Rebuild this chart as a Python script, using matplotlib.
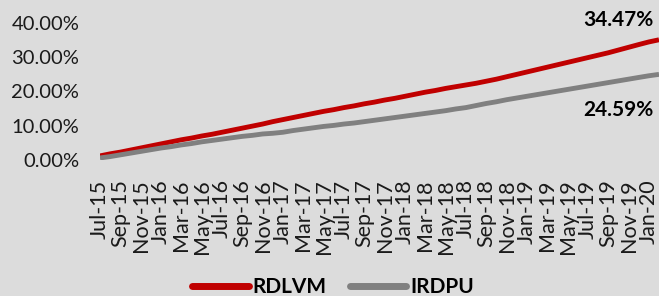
import matplotlib
matplotlib.use("Agg")
import matplotlib.pyplot as plt
from matplotlib.ticker import FuncFormatter

# ---- data (monthly, Jul-15 .. Feb-20), values in % ----
rdlvm = [1.2, 1.8, 2.3, 2.9, 3.5, 4.1, 4.7, 5.3, 5.9, 6.4, 7.0, 7.5, 8.1, 8.7,
         9.3, 9.9, 10.5, 11.2, 11.8, 12.4, 13.0, 13.6, 14.2, 14.7, 15.3, 15.8,
         16.4, 16.9, 17.5, 18.0, 18.6, 19.2, 19.8, 20.3, 20.9, 21.4, 21.9, 22.4,
         23.0, 23.6, 24.3, 25.0, 25.7, 26.4, 27.1, 27.8, 28.5, 29.2, 29.9, 30.6,
         31.3, 32.1, 32.9, 33.7, 34.47, 35.1]
irdpu = [0.6, 1.0, 1.5, 2.0, 2.5, 3.0, 3.5, 3.9, 4.4, 4.8, 5.3, 5.7, 6.1, 6.5,
         6.9, 7.2, 7.6, 7.8, 8.1, 8.6, 9.0, 9.4, 9.8, 10.1, 10.5, 10.8, 11.2,
         11.6, 12.0, 12.4, 12.8, 13.2, 13.6, 14.0, 14.4, 14.9, 15.3, 15.9, 16.5,
         17.0, 17.6, 18.1, 18.6, 19.1, 19.6, 20.1, 20.6, 21.1, 21.6, 22.1, 22.6,
         23.1, 23.6, 24.1, 24.59, 25.0]
tick_labels = ["Jul-15", "Sep-15", "Nov-15", "Jan-16", "Mar-16", "May-16",
               "Jul-16", "Sep-16", "Nov-16", "Jan-17", "Mar-17", "May-17",
               "Jul-17", "Sep-17", "Nov-17", "Jan-18", "Mar-18", "May-18",
               "Jul-18", "Sep-18", "Nov-18", "Jan-19", "Mar-19", "May-19",
               "Jul-19", "Sep-19", "Nov-19", "Jan-20"]
y_ticks = [0, 10, 20, 30, 40]
end_labels = {"RDLVM": 34.47, "IRDPU": 24.59}
series_names = ["RDLVM", "IRDPU"]
colors = ["#c00000", "#808080"]

plt.rcParams['font.family'] = ['Lato', 'DejaVu Sans']

fig = plt.figure(figsize=(6.59, 2.96), dpi=100, facecolor="#dcdcdc")
ax = fig.add_axes([100/659, 1-160/296, 1-100/659, (160-23)/296])
ax.set_facecolor("none")

x = list(range(len(rdlvm)))
for vals, name, c in zip([rdlvm, irdpu], series_names, colors):
    ax.plot(x, vals, color=c, lw=3.5, label=name, solid_capstyle="butt")

ax.set_xlim(0, len(rdlvm) - 1)
ax.set_ylim(0, 40)
ax.set_yticks(y_ticks)
ax.yaxis.set_major_formatter(FuncFormatter(lambda v, p: f"{v:.2f}%"))
ax.set_xticks(list(range(0, 2 * len(tick_labels), 2)))
ax.set_xticklabels(tick_labels, rotation=90)
ax.tick_params(axis="y", length=0, pad=15, labelsize=14.5, labelcolor="#1a1a1a")
ax.tick_params(axis="x", length=0, pad=14, labelsize=15.5, labelcolor="#1a1a1a")
for s in ax.spines.values():
    s.set_visible(False)

# end value annotations
ax.text(1 - 6/559, 1 + 3/137, f"{end_labels['RDLVM']:.2f}%", transform=ax.transAxes,
        ha="right", va="center", fontsize=15, fontweight="bold", color="black")
ax.text(1 - 6/559, 1 - (110-23)/137, f"{end_labels['IRDPU']:.2f}%", transform=ax.transAxes,
        ha="right", va="center", fontsize=15, fontweight="bold", color="black")

leg = fig.legend(loc="center", bbox_to_anchor=(333/659, 9/296), ncol=2, frameon=False,
                 handlelength=2.7, handletextpad=0.2, columnspacing=1.1,
                 prop={"size": 15, "weight": "bold"})
for line in leg.get_lines():
    line.set_linewidth(5)
    line.set_solid_capstyle("round")

fig.savefig("out.png", dpi=100, facecolor=fig.get_facecolor())
